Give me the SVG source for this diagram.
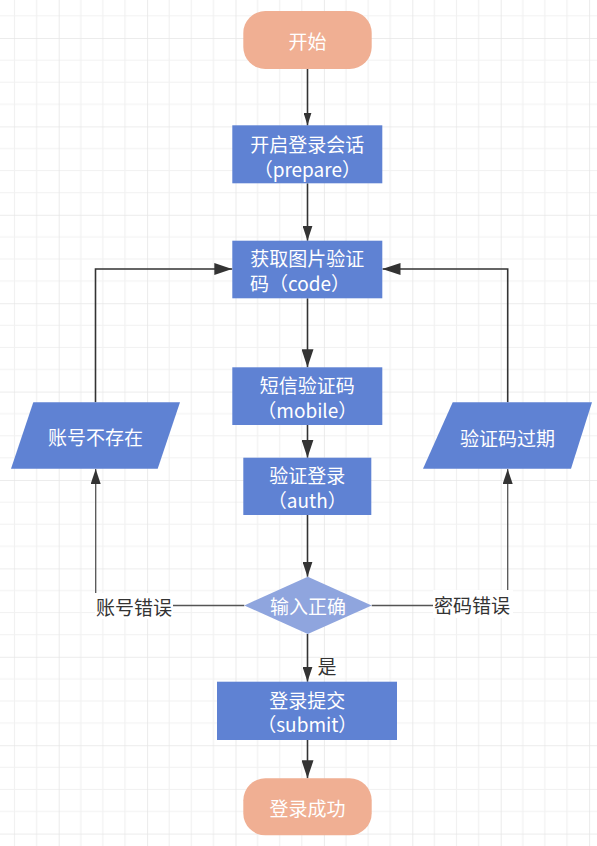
<svg xmlns="http://www.w3.org/2000/svg" width="597" height="846" viewBox="0 0 597 846">
<style>
.t{font-family:"Noto Sans CJK SC","Liberation Sans",sans-serif;font-size:19px;fill:#ffffff;text-anchor:middle;dominant-baseline:central}
.lb{font-family:"Noto Sans CJK SC","Liberation Sans",sans-serif;font-size:19px;fill:#333333;text-anchor:middle;dominant-baseline:central}
.box{fill:#5f82d3}
.term{fill:#f0af93}
.dia{fill:#8fa5de}
.c{fill:none;stroke:#333333;stroke-width:1.6}
.cl{fill:none;stroke:#555555;stroke-width:1.3}
</style>
<defs>
<pattern id="grid" patternUnits="userSpaceOnUse" x="58.7" y="38" width="88.4" height="88.4">
<path d="M22.1 0V88.4M44.2 0V88.4M66.3 0V88.4M0 22.1H88.4M0 44.2H88.4M0 66.3H88.4" stroke="#f1f1f1" stroke-width="1.2" fill="none"/>
<path d="M0 0V88.4M0 0H88.4" stroke="#e6e6e6" stroke-width="1.6" fill="none"/>
</pattern>
<marker id="aL" viewBox="0 0 18 12" markerWidth="18" markerHeight="12" refX="18" refY="6" orient="auto" markerUnits="userSpaceOnUse"><path d="M0 0L18 6L0 12z" fill="#333333"/></marker>
<marker id="aM" viewBox="0 0 15 10" markerWidth="15" markerHeight="10" refX="15" refY="5" orient="auto" markerUnits="userSpaceOnUse"><path d="M0 0L15 5L0 10z" fill="#333333"/></marker>
<marker id="aS" viewBox="0 0 13 8" markerWidth="13" markerHeight="8" refX="13" refY="4" orient="auto" markerUnits="userSpaceOnUse"><path d="M0 0L13 4L0 8z" fill="#333333"/></marker>
</defs>
<rect width="597" height="846" fill="#ffffff"/>
<rect width="597" height="846" fill="url(#grid)"/>

<g id="connectors">
<path class="c" d="M307.5 69V125.5" marker-end="url(#aS)"/>
<path class="c" d="M307.5 183.3V240.7" marker-end="url(#aM)"/>
<path class="c" d="M307.5 298.3V367.3" marker-end="url(#aL)"/>
<path class="c" d="M307.5 425V457.7" marker-end="url(#aL)"/>
<path class="c" d="M307.5 515V576.7" marker-end="url(#aM)"/>
<path class="c" d="M307.5 634V681.7" marker-end="url(#aM)"/>
<path class="c" d="M307.5 740V778.3" marker-end="url(#aL)"/>
<path class="c" d="M95.5 402.3V269H232.3" marker-end="url(#aL)"/>
<path class="c" d="M507.7 402.3V269H382.5" marker-end="url(#aL)"/>
<path class="cl" d="M244.3 605.5H95.7V469" marker-end="url(#aM)"/>
<path class="cl" d="M371.7 605.5H507.7V469" marker-end="url(#aM)"/>
<g id="label-left">
<rect x="95" y="593" width="78" height="26" fill="#ffffff"/>
<text class="lb" x="134" y="606">账号错误</text>
</g>
<g id="label-right">
<rect x="433" y="590" width="80" height="28" fill="#ffffff"/>
<text class="lb" x="472" y="604">密码错误</text>
</g>
<text id="label-yes" class="lb" x="327" y="665">是</text>
</g>

<g id="start">
<rect class="term" x="243.3" y="11" width="128.4" height="58" rx="22"/>
<text class="t" x="307.5" y="40">开始</text>
</g>
<g id="prepare">
<rect class="box" x="232.3" y="125.3" width="150" height="58"/>
<text class="t" x="307.3" y="143">开启登录会话</text>
<text class="t" x="307.3" y="168">（prepare）</text>
</g>
<g id="code">
<rect class="box" x="232.3" y="240.7" width="150" height="57.6"/>
<text class="t" x="307.3" y="257.5">获取图片验证</text>
<text class="t" x="300" y="282.5">码（code）</text>
</g>
<g id="mobile">
<rect class="box" x="232.3" y="367.3" width="150" height="57.7"/>
<text class="t" x="307.3" y="384">短信验证码</text>
<text class="t" x="307.3" y="409">（mobile）</text>
</g>
<g id="auth">
<rect class="box" x="243.3" y="457.7" width="128" height="57.3"/>
<text class="t" x="307.3" y="474">验证登录</text>
<text class="t" x="307.3" y="499">（auth）</text>
</g>
<g id="not-exist">
<polygon class="box" points="33.3,402.3 180,402.3 157.7,468.7 11,468.7"/>
<text class="t" x="95.5" y="436">账号不存在</text>
</g>
<g id="expired">
<polygon class="box" points="452.7,402.3 592,402.3 571,468.7 423,468.7"/>
<text class="t" x="507.5" y="437">验证码过期</text>
</g>
<g id="check">
<polygon class="dia" points="307.8,576.7 371.7,605.4 307.8,634 244.3,605.4"/>
<text class="t" x="308" y="605.5">输入正确</text>
</g>
<g id="submit">
<rect class="box" x="217" y="681.7" width="180" height="58.3"/>
<text class="t" x="307.3" y="699">登录提交</text>
<text class="t" x="307.3" y="723.5">（submit）</text>
</g>
<g id="end">
<rect class="term" x="243.3" y="778.3" width="128.4" height="57" rx="22"/>
<text class="t" x="307.5" y="807">登录成功</text>
</g>
</svg>
